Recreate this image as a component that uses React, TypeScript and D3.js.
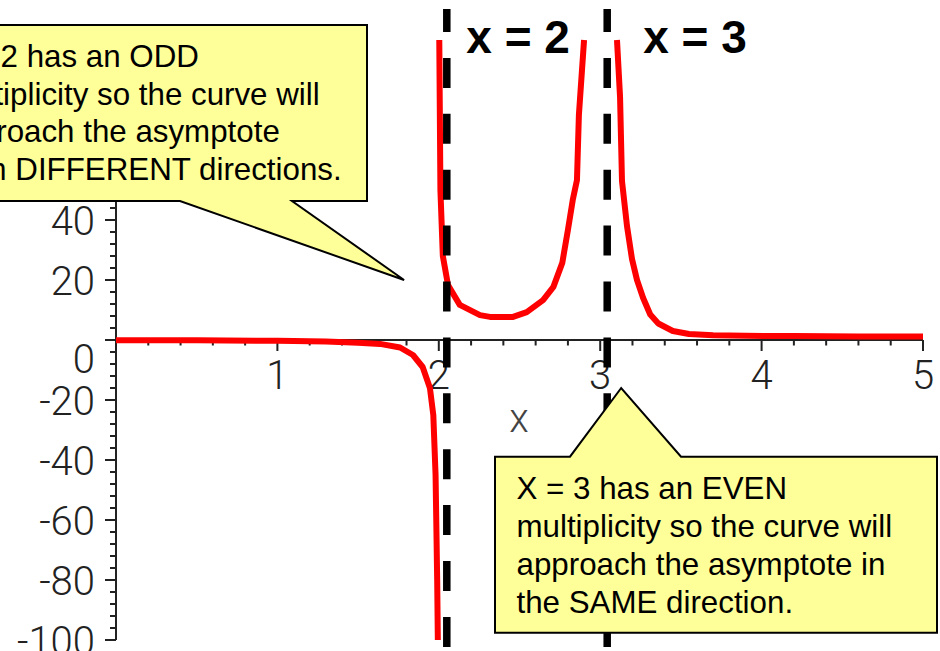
import React from 'react';
import * as d3 from 'd3';

// Curve branches (x, y)
const leftX = [0, 0.5, 1.0, 1.3, 1.5, 1.636, 1.76, 1.84, 1.9, 1.945, 1.966, 1.98, 1.99, 1.994];
const leftY = [-0.06, -0.12, -0.25, -0.5, -0.9, -1.3, -2.5, -5, -9, -16, -25, -45, -80, -100];

const midX = [2.003, 2.01, 2.025, 2.057, 2.13, 2.255, 2.317, 2.46, 2.545, 2.646, 2.71, 2.765, 2.8, 2.83, 2.856, 2.868, 2.9];
const midY = [100, 50, 28, 18.3, 11.7, 8.3, 7.7, 7.7, 9.3, 13.3, 17.7, 25.7, 36.7, 46.7, 53.3, 75, 100];

const rightX = [3.104, 3.123, 3.135, 3.166, 3.197, 3.228, 3.266, 3.31, 3.36, 3.45, 3.55, 3.7, 3.9, 4.2, 4.6, 5.0];
const rightY = [100, 81, 53, 38, 27, 20, 14, 8.5, 5.5, 3, 2, 1.6, 1.4, 1.3, 1.2, 1.2];

const xTicks = [1, 2, 3, 4, 5];
const yTicks = [-100, -80, -60, -40, -20, 0, 20, 40, 60, 80, 100];

const asymptotes = [2, 3];
const asymptoteLabels = ['x = 2', 'x = 3'];

const noteOdd = ['X = 2 has an ODD', 'multiplicity so the curve will', 'approach the asymptote', 'from DIFFERENT directions.'];
const noteEven = ['X = 3 has an EVEN', 'multiplicity so the curve will', 'approach the asymptote in', 'the SAME direction.'];
const noteOddTip: [number, number] = [1.785, 20];
const noteEvenTip: [number, number] = [3.13, -16];

export default function App() {
  const W = 940, H = 651;
  const x = d3.scaleLinear().domain([0, 5]).range([116, 923]);
  const y = d3.scaleLinear().domain([-100, 100]).range([640, 40]);
  const line = d3.line<[number, number]>().x(d => x(d[0])).y(d => y(d[1]));
  const zip = (a: number[], b: number[]) => a.map((v, i) => [v, b[i]] as [number, number]);
  const branches = [zip(leftX, leftY), zip(midX, midY), zip(rightX, rightY)];

  const xMinor = d3.range(0, 5.0001, 0.2);
  const yMinor = d3.range(-100, 100.0001, 4);
  const tickFont = { fontFamily: 'Roboto, "Liberation Sans", sans-serif', fontWeight: 300, fontSize: 40, fill: '#222' } as const;
  const noteFont = { fontFamily: '"Liberation Sans", Arial, sans-serif', fontSize: 31.3, fill: '#000' } as const;

  // callout 1 geometry
  const c1 = { l: -78, t: 25, r: 367, b: 201, p1: 180, p2: 292 };
  const t1 = [x(noteOddTip[0]), y(noteOddTip[1])];
  const c1Path = `M${c1.l},${c1.t}H${c1.r}V${c1.b}H${c1.p2}L${t1[0]},${t1[1]}L${c1.p1},${c1.b}H${c1.l}Z`;
  const c2 = { l: 495, t: 456.7, r: 937, b: 632.7, p1: 570, p2: 681 };
  const t2 = [x(noteEvenTip[0]), y(noteEvenTip[1])];
  const c2Path = `M${c2.l},${c2.t}H${c2.p1}L${t2[0]},${t2[1]}L${c2.p2},${c2.t}H${c2.r}V${c2.b}H${c2.l}Z`;

  const dashShift = [8, 7];
  const labelShift = [27.5, 43];

  return (
    <svg width={W} height={H} style={{ position: 'absolute', left: 0, top: 0, background: '#fff' }}>
      <rect x={0} y={0} width={W} height={H} fill="#fff" />
      {/* axes */}
      <line x1={x(0)} x2={x(5)} y1={y(0)} y2={y(0)} stroke="#222" strokeWidth={2} />
      <line x1={x(0)} x2={x(0)} y1={y(100)} y2={y(-100)} stroke="#222" strokeWidth={2} />
      {xMinor.map((v, i) => (
        <line key={'xm' + i} x1={x(v)} x2={x(v)} y1={y(0)} y2={y(0) + (Math.abs(v - Math.round(v)) < 1e-6 ? 11 : 5.5)} stroke="#222" strokeWidth={2} />
      ))}
      {yMinor.map((v, i) => (
        <line key={'ym' + i} x1={x(0) - (Math.abs(v % 20) < 1e-6 ? 11 : 6)} x2={x(0)} y1={y(v)} y2={y(v)} stroke="#222" strokeWidth={2} />
      ))}
      {xTicks.map(v => (
        <text key={'xt' + v} x={x(v)} y={389} textAnchor="middle" {...tickFont}>{v}</text>
      ))}
      {yTicks.map(v => (
        <text key={'yt' + v} x={95} y={y(v) + (v === 0 ? 33 : 14.5)} textAnchor="end" {...tickFont}>{String(v)}</text>
      ))}
      <text x={519} y={432} textAnchor="middle" {...tickFont} fill="#444">x</text>
      {/* curve */}
      {branches.map((b, i) => (
        <path key={'br' + i} d={line(b) || ''} fill="none" stroke="#ff0000" strokeWidth={6} strokeLinejoin="round" />
      ))}
      {/* asymptotes */}
      {asymptotes.map((a, i) => (
        <line key={'as' + i} x1={x(a) + dashShift[i]} x2={x(a) + dashShift[i]} y1={9} y2={H} stroke="#000" strokeWidth={7.5} strokeDasharray="30 25.9" strokeDashoffset={7} />
      ))}
      {asymptoteLabels.map((t, i) => (
        <text key={'al' + i} x={x(asymptotes[i]) + labelShift[i]} y={53} fontFamily='"Liberation Sans", Arial, sans-serif' fontWeight="bold" fontSize={46} fill="#000">{t}</text>
      ))}
      {/* callouts */}
      <path d={c1Path} fill="#ffff99" stroke="#000" strokeWidth={2} />
      {noteOdd.map((t, i) => (
        <text key={'n1' + i} x={c1.l + 22} y={c1.t + 41.7 + i * 37.8} {...noteFont}>{t}</text>
      ))}
      <path d={c2Path} fill="#ffff99" stroke="#000" strokeWidth={2} />
      {noteEven.map((t, i) => (
        <text key={'n2' + i} x={c2.l + 21.5} y={c2.t + 42.6 + i * 38} {...noteFont}>{t}</text>
      ))}
    </svg>
  );
}
